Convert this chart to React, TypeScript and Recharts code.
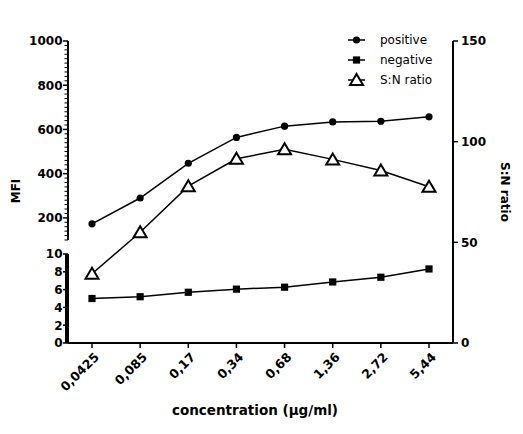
import React from 'react';
import { LineChart, Line, XAxis, YAxis, Legend } from 'recharts';

// ---- data ----
const categories = ['0,0425', '0,085', '0,17', '0,34', '0,68', '1,36', '2,72', '5,44'];
const positive = [173, 290, 447, 564, 615, 634, 637, 657];
const negative = [5.0, 5.2, 5.7, 6.05, 6.27, 6.86, 7.39, 8.32];
const snRatio = [34.4, 55, 77.9, 91.5, 96.2, 91.2, 85.7, 77.6];

const mfiTopMajor = [200, 400, 600, 800, 1000];
const mfiBottomMajor = [0, 2, 4, 6, 8, 10];
const snTicks = [0, 50, 100, 150];

const data = categories.map((c, i) => ({
  conc: c,
  positive: positive[i],
  negative: negative[i],
  sn: snRatio[i],
}));

// minor tick positions (axis decoration)
const mfiTopMinor = Array.from({ length: 46 }, (_, i) => 100 + 20 * i);
const mfiBottomMinor = Array.from({ length: 101 }, (_, i) => Math.round(i) / 10);

// ---- layout ----
const W = 523;
const H = 434;
const LEFT = 68;
const RIGHT_W = W - 453;
const TOP = 41;
const BOTTOM = 343;
const TOP_SEG_BOTTOM = 240;
const BOTTOM_SEG_TOP = 254;
const FONT = '"DejaVu Sans", Verdana, sans-serif';
const XPAD = { left: 24, right: 24 };

const makeLeftTick = (majors: number[], solid: boolean) => (props: any) => {
  const { x, y, payload } = props;
  const v = payload.value;
  const major = majors.includes(v);
  return (
    <g>
      <line
        x1={x}
        x2={x - (major ? 5 : 3.5)}
        y1={y}
        y2={y}
        stroke="#000"
        strokeWidth={major ? 1.5 : solid ? 1.2 : 1}
        shapeRendering={solid && !major ? 'crispEdges' : undefined}
      />
      {major && (
        <text x={x - 5.5} y={y} dy={4.3} textAnchor="end" fontFamily={FONT} fontWeight="bold" fontSize={12} fill="#000">
          {v}
        </text>
      )}
    </g>
  );
};

const RightTick = (props: any) => {
  const { x, y, payload } = props;
  return (
    <g>
      <line x1={x} x2={x + 5} y1={y} y2={y} stroke="#000" strokeWidth={1.5} />
      <text x={x + 8} y={y} dy={4.3} textAnchor="start" fontFamily={FONT} fontWeight="bold" fontSize={12} fill="#000">
        {payload.value}
      </text>
    </g>
  );
};

const XTick = (props: any) => {
  const { x, y, payload } = props;
  return (
    <g>
      <line x1={x} x2={x} y1={y} y2={y + 5} stroke="#000" strokeWidth={1.5} />
      <g transform={`translate(${x + 5},${y + 12})`}>
        <text x={0} y={0} dy={4} textAnchor="end" transform="rotate(-45)" fontFamily={FONT} fontWeight="bold" fontSize={12.5} fill="#000">
          {payload.value}
        </text>
      </g>
    </g>
  );
};

const CircleDot = (props: any) => {
  const { cx, cy, index } = props;
  return <circle key={`c${index}`} cx={cx} cy={cy} r={3.6} fill="#000" />;
};
const SquareDot = (props: any) => {
  const { cx, cy, index } = props;
  return <rect key={`s${index}`} x={cx - 3.6} y={cy - 3.6} width={7.2} height={7.2} fill="#000" />;
};
const TriDot = (props: any) => {
  const { cx, cy, index } = props;
  return (
    <polygon
      key={`t${index}`}
      points={`${cx},${cy - 6} ${cx - 6.5},${cy + 5} ${cx + 6.5},${cy + 5}`}
      fill="#fff"
      stroke="#000"
      strokeWidth={2}
      strokeLinejoin="miter"
    />
  );
};

const legendItems = [
  { label: 'positive', kind: 'circle' },
  { label: 'negative', kind: 'square' },
  { label: 'S:N ratio', kind: 'tri' },
];
const LegendContent = () => (
  <svg width={130} height={70}>
    {legendItems.map((it, i) => {
      const cy = 12 + i * 20;
      const cx = 16.5;
      return (
        <g key={it.label}>
          <line x1={8} x2={25} y1={cy} y2={cy} stroke="#000" strokeWidth={1.5} />
          {it.kind === 'circle' && <circle cx={cx} cy={cy} r={3.6} fill="#000" />}
          {it.kind === 'square' && <rect x={cx - 3.6} y={cy - 3.6} width={7.2} height={7.2} fill="#000" />}
          {it.kind === 'tri' && (
            <polygon points={`${cx},${cy - 6} ${cx - 6.5},${cy + 5} ${cx + 6.5},${cy + 5}`} fill="#fff" stroke="#000" strokeWidth={2} />
          )}
          <text x={40} y={cy} dy={4.3} fontFamily={FONT} fontSize={12} fill="#000">
            {it.label}
          </text>
        </g>
      );
    })}
  </svg>
);

const layer: React.CSSProperties = { position: 'absolute', left: 0, top: 0 };

export default function App() {
  return (
    <div style={{ position: 'absolute', left: 0, top: 0, width: W, height: H, background: '#fff' }}>
      {/* full-height layer: x axis, right axis, S:N line, legend */}
      <div style={layer}>
        <LineChart width={W} height={H} data={data} margin={{ top: TOP, right: 0, bottom: 0, left: LEFT }}>
          <XAxis
            dataKey="conc"
            padding={XPAD}
            height={H - BOTTOM}
            interval={0}
            tickSize={0}
            tickMargin={0}
            tickLine={false}
            axisLine={{ stroke: '#000', strokeWidth: 2 }}
            tick={XTick}
            label={{
              content: () => (
                <text x={255} y={415} textAnchor="middle" fontFamily={FONT} fontWeight="bold" fontSize={13.5} fill="#000">
                  concentration (µg/ml)
                </text>
              ),
            }}
          />
          <YAxis
            yAxisId="r"
            orientation="right"
            width={RIGHT_W}
            domain={[0, 150]}
            ticks={snTicks}
            interval={0}
            tickSize={0}
            tickMargin={0}
            tickLine={false}
            axisLine={{ stroke: '#000', strokeWidth: 2 }}
            tick={RightTick}
            label={{
              content: () => (
                <text x={505} y={192} transform="rotate(90 505 192)" textAnchor="middle" dominantBaseline="central" fontFamily={FONT} fontWeight="bold" fontSize={12} fill="#000">
                  S:N ratio
                </text>
              ),
            }}
          />
          <Line
            yAxisId="r"
            dataKey="sn"
            stroke="#000"
            strokeWidth={1.5}
            dot={TriDot}
            activeDot={false}
            isAnimationActive={false}
          />
          <Legend
            layout="vertical"
            align="center"
            verticalAlign="middle"
            wrapperStyle={{ position: 'absolute', left: 340, top: 28, width: 130, height: 70 }}
            content={LegendContent}
          />
        </LineChart>
      </div>

      {/* top segment: positive MFI */}
      <div style={layer}>
        <LineChart width={W} height={H} data={data} margin={{ top: TOP, right: RIGHT_W, bottom: H - TOP_SEG_BOTTOM, left: 0 }}>
          <XAxis dataKey="conc" padding={XPAD} hide />
          <YAxis
            width={LEFT}
            domain={[100, 1000]}
            ticks={mfiTopMinor}
            interval={0}
            tickSize={0}
            tickMargin={0}
            tickLine={false}
            axisLine={{ stroke: '#000', strokeWidth: 2 }}
            tick={makeLeftTick(mfiTopMajor, false)}
            label={{
              content: () => (
                <text x={16} y={191} transform="rotate(-90 16 191)" textAnchor="middle" dominantBaseline="central" fontFamily={FONT} fontWeight="bold" fontSize={12} fill="#000">
                  MFI
                </text>
              ),
            }}
          />
          <Line dataKey="positive" stroke="#000" strokeWidth={1.5} dot={CircleDot} activeDot={false} isAnimationActive={false} />
        </LineChart>
      </div>

      {/* bottom segment: negative MFI */}
      <div style={layer}>
        <LineChart width={W} height={H} data={data} margin={{ top: BOTTOM_SEG_TOP, right: RIGHT_W, bottom: H - BOTTOM, left: 0 }}>
          <XAxis dataKey="conc" padding={XPAD} hide />
          <YAxis
            width={LEFT}
            domain={[0, 10]}
            ticks={mfiBottomMinor}
            interval={0}
            tickSize={0}
            tickMargin={0}
            tickLine={false}
            axisLine={{ stroke: '#000', strokeWidth: 2 }}
            tick={makeLeftTick(mfiBottomMajor, true)}
          />
          <Line dataKey="negative" stroke="#000" strokeWidth={1.5} dot={SquareDot} activeDot={false} isAnimationActive={false} />
        </LineChart>
      </div>
    </div>
  );
}
